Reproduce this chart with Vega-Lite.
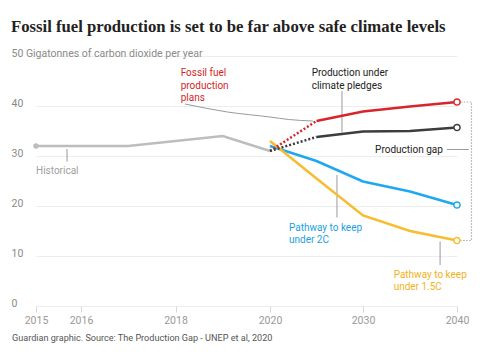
{
  "$schema": "https://vega.github.io/schema/vega-lite/v6.json",
  "width": 465,
  "height": 250,
  "autosize": {"type": "none"},
  "padding": {"left": 11, "top": 56, "right": 11, "bottom": 51},
  "background": "white",
  "title": {
    "text": "Fossil fuel production is set to be far above safe climate levels",
    "anchor": "start",
    "frame": "group",
    "font": "Liberation Serif",
    "fontSize": 16.7,
    "fontWeight": "bold",
    "color": "#222222",
    "offset": 12
  },
  "config": {"view": {"stroke": null}, "font": "Roboto"},
  "datasets": {
    "lines": [
      {"series": "Historical", "seg": "solid", "year": 2015, "value": 32},
      {"series": "Historical", "seg": "solid", "year": 2017, "value": 32},
      {"series": "Historical", "seg": "solid", "year": 2019, "value": 34},
      {"series": "Historical", "seg": "solid", "year": 2020, "value": 31},
      {"series": "Fossil fuel production plans", "seg": "dotted", "year": 2020, "value": 31},
      {"series": "Fossil fuel production plans", "seg": "dotted", "year": 2025, "value": 37},
      {"series": "Fossil fuel production plans", "seg": "solid", "year": 2025, "value": 37},
      {"series": "Fossil fuel production plans", "seg": "solid", "year": 2030, "value": 38.9},
      {"series": "Fossil fuel production plans", "seg": "solid", "year": 2035, "value": 39.9},
      {"series": "Fossil fuel production plans", "seg": "solid", "year": 2040, "value": 40.8},
      {"series": "Production under climate pledges", "seg": "dotted", "year": 2020, "value": 31},
      {"series": "Production under climate pledges", "seg": "dotted", "year": 2025, "value": 33.8},
      {"series": "Production under climate pledges", "seg": "solid", "year": 2025, "value": 33.8},
      {"series": "Production under climate pledges", "seg": "solid", "year": 2030, "value": 34.9},
      {"series": "Production under climate pledges", "seg": "solid", "year": 2035, "value": 35},
      {"series": "Production under climate pledges", "seg": "solid", "year": 2040, "value": 35.7},
      {"series": "Pathway to keep under 2C", "seg": "solid", "year": 2020, "value": 32},
      {"series": "Pathway to keep under 2C", "seg": "solid", "year": 2025, "value": 29},
      {"series": "Pathway to keep under 2C", "seg": "solid", "year": 2030, "value": 24.9},
      {"series": "Pathway to keep under 2C", "seg": "solid", "year": 2035, "value": 22.9},
      {"series": "Pathway to keep under 2C", "seg": "solid", "year": 2040, "value": 20.2},
      {"series": "Pathway to keep under 1.5C", "seg": "solid", "year": 2020, "value": 33},
      {"series": "Pathway to keep under 1.5C", "seg": "solid", "year": 2025, "value": 25.5},
      {"series": "Pathway to keep under 1.5C", "seg": "solid", "year": 2030, "value": 18.1},
      {"series": "Pathway to keep under 1.5C", "seg": "solid", "year": 2035, "value": 15},
      {"series": "Pathway to keep under 1.5C", "seg": "solid", "year": 2040, "value": 13.1}
    ],
    "curve": [
      {"year": 2018.2, "value": 40.4},
      {"year": 2019.1, "value": 38.8},
      {"year": 2020, "value": 37.8},
      {"year": 2022, "value": 37.3},
      {"year": 2024.6, "value": 37.0}
    ],
    "leaders": [
      {"id": "pledges", "year": 2027.74, "value": 43.0},
      {"id": "pledges", "year": 2027.74, "value": 34.7},
      {"id": "2C", "year": 2027.2, "value": 26.2},
      {"id": "2C", "year": 2027.2, "value": 17.7},
      {"id": "1.5C", "year": 2038.2, "value": 12.9},
      {"id": "1.5C", "year": 2038.2, "value": 8.2},
      {"id": "hist", "year": 2015.69, "value": 31.4},
      {"id": "hist", "year": 2015.69, "value": 28.9},
      {"id": "gap", "year": 2038.92, "value": 31.3},
      {"id": "gap", "year": 2041.25, "value": 31.3}
    ],
    "bracket": [
      {"i": 1, "year": 2040.4, "value": 40.8},
      {"i": 2, "year": 2041.54, "value": 40.8},
      {"i": 3, "year": 2041.54, "value": 13.1},
      {"i": 4, "year": 2040.4, "value": 13.1}
    ],
    "labels": [
      {"group": "fossil", "label": "Fossil fuel|production|plans", "year": 2018.11, "value": 46.0},
      {"group": "pledges", "label": "Production under|climate pledges", "year": 2024.48, "value": 46.0},
      {"group": "2C", "label": "Pathway to keep|under 2C", "year": 2022.04, "value": 15.1},
      {"group": "1.5C", "label": "Pathway to keep|under 1.5C", "year": 2033.26, "value": 5.7},
      {"group": "hist", "label": "Historical", "year": 2015.0, "value": 26.4}
    ],
    "gaplabel": [
      {"label": "Production gap", "year": 2038.5, "value": 30.6}
    ]
  },
  "layer": [
    {
      "data": {"name": "lines"},
      "transform": [{"filter": "datum.series == 'Historical'"}],
      "mark": {"type": "line", "color": "#bdbdbd", "strokeWidth": 2.5},
      "encoding": {
        "x": {
          "field": "year",
          "type": "quantitative",
          "scale": {"type": "linear", "domain": [2015, 2016, 2020, 2030, 2040], "range": [25, 70, 259, 352, 446], "nice": false, "zero": false},
          "axis": {
            "values": [2015, 2016, 2018, 2020, 2030, 2040],
            "format": "d",
            "grid": false,
            "domain": false,
            "ticks": true,
            "tickColor": "#d9d9d9",
            "tickSize": 6,
            "labelFlush": false,
            "labelColor": "#999999",
            "labelFont": "Roboto",
            "labelFontSize": 10.5,
            "labelPadding": 3,
            "title": "Guardian graphic. Source: The Production Gap - UNEP et al, 2020",
            "titleAnchor": "start",
            "titleAlign": "left",
            "titleX": 0.5,
            "titleY": 31,
            "titleBaseline": "middle",
            "titleFont": "Roboto",
            "titleFontSize": 9.1,
            "titleFontWeight": "normal",
            "titleColor": "#555555"
          }
        },
        "y": {
          "field": "value",
          "type": "quantitative",
          "scale": {"domain": [0, 50], "nice": false},
          "axis": {
            "values": [0, 10, 20, 30, 40, 50],
            "labelExpr": "datum.value == 50 ? '50 Gigatonnes of carbon dioxide per year' : datum.label",
            "labelLimit": 400,
            "grid": true,
            "gridColor": "#ededed",
            "domain": false,
            "ticks": false,
            "tickSize": 0,
            "labelAlign": "left",
            "labelBaseline": "alphabetic",
            "labelPadding": 0,
            "labelDy": -3.5,
            "labelColor": "#8a8a8a",
            "labelFont": "Roboto",
            "labelFontSize": 10.5,
            "title": null
          }
        }
      }
    },
    {
      "mark": {"type": "rule", "color": "#dedede", "strokeWidth": 1},
      "encoding": {"y": {"datum": 0}}
    },
    {
      "mark": {"type": "rule", "color": "#d6d6d6", "strokeWidth": 1},
      "encoding": {"x": {"datum": 2014.48}, "x2": {"datum": 2042.1}, "y": {"datum": 60.5}}
    },
    {
      "mark": {"type": "rule", "color": "#d6d6d6", "strokeWidth": 1},
      "encoding": {"x": {"datum": 2014.48}, "x2": {"datum": 2042.1}, "y": {"datum": -8.2}}
    },
    {
      "mark": {"type": "rule", "color": "#dedede", "strokeWidth": 1},
      "encoding": {"x": {"datum": 2014.3}, "y": {"datum": 61.2}, "y2": {"datum": -10.2}}
    },
    {
      "data": {"name": "lines"},
      "transform": [{"filter": "datum.series == 'Historical' && datum.year == 2015"}],
      "mark": {"type": "point", "filled": true, "color": "#bdbdbd", "size": 30, "opacity": 1},
      "encoding": {
        "x": {"field": "year", "type": "quantitative"},
        "y": {"field": "value", "type": "quantitative"}
      }
    },
    {
      "data": {"name": "curve"},
      "mark": {"type": "line", "color": "#9a9a9a", "strokeWidth": 1, "interpolate": "monotone"},
      "encoding": {
        "x": {"field": "year", "type": "quantitative"},
        "y": {"field": "value", "type": "quantitative"}
      }
    },
    {
      "data": {"name": "leaders"},
      "mark": {"type": "line", "color": "#9a9a9a", "strokeWidth": 1},
      "encoding": {
        "x": {"field": "year", "type": "quantitative"},
        "y": {"field": "value", "type": "quantitative"},
        "detail": {"field": "id"}
      }
    },
    {
      "data": {"name": "bracket"},
      "mark": {"type": "line", "color": "#aaaaaa", "strokeWidth": 1.2, "strokeDash": [1.5, 1.5]},
      "encoding": {
        "x": {"field": "year", "type": "quantitative"},
        "y": {"field": "value", "type": "quantitative"},
        "order": {"field": "i"}
      }
    },
    {
      "data": {"name": "lines"},
      "transform": [{"filter": "datum.series != 'Historical' && datum.seg == 'solid'"}],
      "mark": {"type": "line", "strokeWidth": 2.5},
      "encoding": {
        "x": {"field": "year", "type": "quantitative"},
        "y": {"field": "value", "type": "quantitative"},
        "color": {
          "field": "series",
          "type": "nominal",
          "scale": {
            "domain": ["Pathway to keep under 1.5C", "Pathway to keep under 2C", "Production under climate pledges", "Fossil fuel production plans"],
            "range": ["#f7bd2f", "#1fa8ef", "#3d3d3d", "#d7262b"]
          },
          "legend": null
        }
      }
    },
    {
      "data": {"name": "lines"},
      "transform": [{"filter": "datum.seg == 'dotted'"}],
      "mark": {"type": "line", "strokeWidth": 2.5, "strokeDash": [2, 2]},
      "encoding": {
        "x": {"field": "year", "type": "quantitative"},
        "y": {"field": "value", "type": "quantitative"},
        "color": {
          "field": "series",
          "type": "nominal",
          "scale": {
            "domain": ["Production under climate pledges", "Fossil fuel production plans"],
            "range": ["#3d3d3d", "#d7262b"]
          },
          "legend": null
        }
      }
    },
    {
      "data": {"name": "lines"},
      "transform": [{"filter": "datum.year == 2040"}],
      "mark": {"type": "point", "fill": "white", "filled": false, "size": 38, "strokeWidth": 1.5, "opacity": 1},
      "encoding": {
        "x": {"field": "year", "type": "quantitative"},
        "y": {"field": "value", "type": "quantitative"},
        "stroke": {
          "field": "series",
          "type": "nominal",
          "scale": {
            "domain": ["Pathway to keep under 1.5C", "Pathway to keep under 2C", "Production under climate pledges", "Fossil fuel production plans"],
            "range": ["#f7bd2f", "#1fa8ef", "#3d3d3d", "#d7262b"]
          },
          "legend": null
        }
      }
    },
    {
      "data": {"name": "labels"},
      "mark": {"type": "text", "align": "left", "baseline": "alphabetic", "lineBreak": "|", "lineHeight": 12.5, "font": "Roboto", "fontSize": 10},
      "encoding": {
        "x": {"field": "year", "type": "quantitative"},
        "y": {"field": "value", "type": "quantitative"},
        "text": {"field": "label", "type": "nominal"},
        "color": {
          "field": "group",
          "type": "nominal",
          "scale": {
            "domain": ["fossil", "pledges", "2C", "1.5C", "hist"],
            "range": ["#d31f26", "#222222", "#1b9fe3", "#f2b21b", "#a0a0a0"]
          },
          "legend": null
        }
      }
    },
    {
      "data": {"name": "gaplabel"},
      "mark": {"type": "text", "align": "right", "baseline": "alphabetic", "font": "Roboto", "fontSize": 10, "color": "#222222"},
      "encoding": {
        "x": {"field": "year", "type": "quantitative"},
        "y": {"field": "value", "type": "quantitative"},
        "text": {"field": "label", "type": "nominal"}
      }
    }
  ],
  "resolve": {"scale": {"color": "independent", "stroke": "independent"}}
}
